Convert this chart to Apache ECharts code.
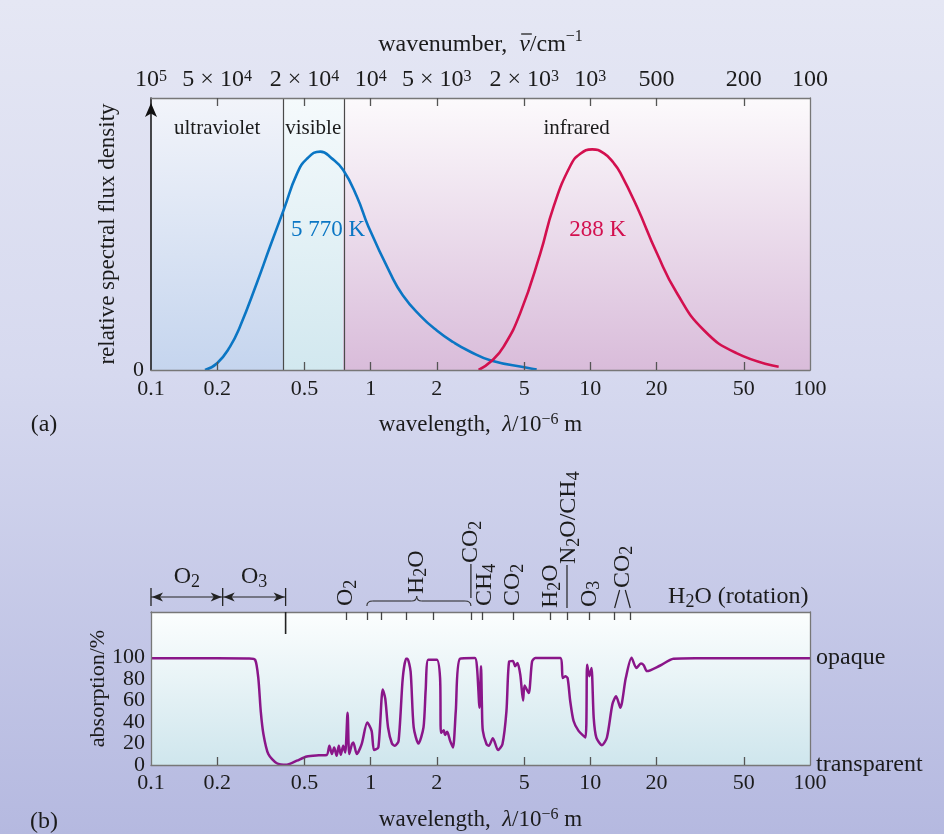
<!DOCTYPE html>
<html>
<head>
<meta charset="utf-8">
<script src="https://cdn.jsdelivr.net/npm/echarts@6.0.0/dist/echarts.min.js"></script>
<style>
html,body{margin:0;padding:0;}
#chart{width:944px;height:834px;background:linear-gradient(180deg,#e5e7f4 0%,#d6d9ef 45%,#b5b9e0 100%);}
</style>
</head>
<body>
<div id="chart"></div>
<script>
// ---------------- data ----------------
const wavelengthTicks = [0.1, 0.2, 0.5, 1, 2, 5, 10, 20, 50, 100];
const wavenumberLabels = ['10^5', '5 × 10^4', '2 × 10^4', '10^4', '5 × 10^3', '2 × 10^3', '10^3', '500', '200', '100'];
const absorptionTicks = [0, 20, 40, 60, 80, 100];
const regionNames = ['ultraviolet', 'visible', 'infrared'];
const regionEdges = [0.1, 0.4, 0.75, 100];
const sunLabel = '5 770 K';
const earthLabel = '288 K';

const sunWl   = [0.176, 0.2, 0.229, 0.254, 0.303, 0.348, 0.404, 0.461, 0.512, 0.59, 0.665, 0.75, 0.866, 0.977, 1.227, 1.4, 1.68, 2.0, 2.38, 2.8, 3.56, 5.15, 5.7];
const sunFlux = [0, 2.5, 8.6, 15.9, 31.9, 45.3, 59.4, 72, 77.6, 80.3, 77.8, 73.5, 63.7, 52.7, 35.6, 27.5, 20, 14.5, 10.2, 7.0, 3.4, 0.85, 0.2];

const earthWl   = [3.1, 3.56, 4.03, 4.8, 5.92, 6.8, 8.1, 9.0, 10.2, 11.5, 12.8, 13.7, 16.3, 20.1, 24.8, 32.8, 46.5, 72];
const earthFlux = [0, 3.4, 8.6, 21, 42.9, 60, 75, 79.5, 81.1, 79.7, 76, 72.5, 60, 42.9, 28.2, 14.7, 6.1, 1.2];

const absWl = [0.1,0.2,0.28,0.298,0.308,0.316,0.325,0.342,0.374,0.415,0.461,0.512,0.58,0.631,0.649,0.666,0.682,0.70,0.716,0.731,0.75,0.766,0.785,0.799,0.822,0.834,0.864,0.91,0.965,1.01,1.036,1.084,1.135,1.165,1.2,1.25,1.29,1.34,1.40,1.45,1.47,1.52,1.57,1.65,1.74,1.78,1.83,2.0,2.07,2.09,2.15,2.18,2.23,2.30,2.37,2.44,2.55,2.98,3.05,3.13,3.18,3.21,3.24,3.37,3.45,3.6,3.8,3.98,4.15,4.27,4.44,4.55,4.66,4.8,4.94,5.02,5.24,5.43,5.62,7.29,7.49,7.69,7.88,8.1,8.39,8.84,9.5,9.67,9.9,10.12,10.36,10.65,11.3,11.9,12.6,13.1,13.7,14.5,15.4,16.2,17.0,17.5,18.1,20.7,23.9,30,100];
const absVal = [99.5,99.5,99.3,98,81,50,28.7,10.2,1.6,0.3,4,8,9,9.3,17.9,10.2,16.4,8.6,17.9,9.5,17.9,11.7,48.8,10.2,19.4,21,10.2,19.4,39.5,31.8,13.9,16.4,70.4,62,35,20,18,22.5,81,99,99,87,35,20,35,70,98,98,81,30,32.4,28,31,22.5,16.4,50,99,99.7,90.4,53.4,92,55,32,19.4,17.9,25,13.9,19.4,50,96.5,97,92,95,84,60,74,67,96.5,99.7,99.7,81,82.7,81,59.5,41,31.8,25.6,93.5,82.7,90.4,44,25.6,18.5,25.6,56.5,64,53.4,81,100,90.4,94.5,93,87.5,92.5,99,99.5,99.5];

const bandMarkers = [0.773, 0.961, 1.113, 1.451, 1.92, 2.86, 3.21, 4.44, 6.57, 7.83, 9.9, 12.9, 15.2];
const uvBandNames = ['O_2', 'O_3'];
const uvBandEdges = [0.1, 0.212, 0.41];
const gasNames = ['O_2', 'H_2O', 'CO_2', 'CH_4', 'CO_2', 'H_2O', 'N_2O/CH_4', 'O_3', 'CO_2'];
const gasWl    = [0.773, 1.62, 2.86, 3.21, 4.44, 6.57, 7.83, 9.9, 14.0];
const waterBrace = [0.961, 1.62, 2.86];
const rotationLabel = 'H_2O (rotation)';
const rotationWl = 22.6;
const opaqueLabels = ['transparent', 'opaque'];

// ---------------- helpers / style ----------------
const L = v => Math.log10(v);
const FONT = '"Liberation Serif","Times New Roman",serif';
const TXT = '#1b1b1b';
const BLUE = '#0b76c4', RED = '#d3104f', PURPLE = '#8a1689';
const mk = s => s.replace(/\^([−\-0-9]+)/g, '{sup|$1}').replace(/_([0-9]+)/g, '{sub|$1}');
const richFor = (fs) => ({
  sup: {fontFamily: FONT, fontSize: Math.round(fs * 0.68), lineHeight: 10, verticalAlign: 'top'},
  sub: {fontFamily: FONT, fontSize: Math.round(fs * 0.75), lineHeight: 16, verticalAlign: 'bottom'},
  it: {fontFamily: FONT, fontSize: fs, fontStyle: 'italic'}
});
const grad = (a, b) => ({type: 'linear', x: 0, y: 0, x2: 0, y2: 1, colorStops: [{offset: 0, color: a}, {offset: 1, color: b}]});
const regionColors = [['#f2f4fa', '#c5d5ee'], ['#f5fafc', '#d2e8ef'], ['#fcfafc', '#d9bcda']];

const tickVals = wavelengthTicks.map(L);
const innerTicks = tickVals.slice(1, -1);
const wlFmt = v => String(+Math.pow(10, v).toPrecision(1));
const wnFmt = v => {
  const i = tickVals.findIndex(t => Math.abs(t - v) < 1e-6);
  return i < 0 ? '' : mk(wavenumberLabels[i]);
};
const lab = (fs, extra) => Object.assign({fontFamily: FONT, fontSize: fs, color: TXT, lineHeight: 18, rich: richFor(fs),
  hideOverlap: false, showMinLabel: true, showMaxLabel: true}, extra);
const nameStyle = {fontFamily: FONT, fontSize: 23, color: TXT, lineHeight: 26, rich: richFor(23)};

const xBase = (gridIndex, position) => ({
  type: 'value', gridIndex, position, min: -1, max: 2, z: 3,
  splitLine: {show: false},
  axisLine: {show: true, onZero: false, lineStyle: {color: '#777', width: 1.3}},
});
const tickStyle = {color: '#555', width: 1.3};

const chart = echarts.init(document.getElementById('chart'), null, {renderer: 'canvas'});

const option = {
  animation: false,
  backgroundColor: 'transparent',
  grid: [
    {left: 151, right: 134, top: 98, height: 272, show: false},
    {left: 151, right: 134, top: 612, height: 154, show: true, borderWidth: 0, backgroundColor: grad('#fcfefe', '#cfe6ed')}
  ],
  xAxis: [
    Object.assign(xBase(0, 'bottom'), {
      axisTick: {show: true, inside: true, length: 8, customValues: innerTicks, lineStyle: tickStyle},
      axisLabel: lab(22, {customValues: tickVals, formatter: wlFmt, margin: 10}),
      name: 'wavelength,  {it|λ}/10{sup|−6} m', nameLocation: 'middle', nameGap: 42, nameTextStyle: nameStyle
    }),
    Object.assign(xBase(0, 'top'), {
      axisTick: {show: true, inside: true, length: 8, customValues: innerTicks, lineStyle: tickStyle},
      axisLabel: lab(24, {customValues: tickVals, formatter: wnFmt, margin: 7, lineHeight: 22})
    }),
    Object.assign(xBase(1, 'bottom'), {
      axisTick: {show: true, inside: true, length: 8, customValues: innerTicks, lineStyle: tickStyle},
      axisLabel: lab(22, {customValues: tickVals, formatter: wlFmt, margin: 9}),
      name: 'wavelength,  {it|λ}/10{sup|−6} m', nameLocation: 'middle', nameGap: 42, nameTextStyle: nameStyle
    }),
    Object.assign(xBase(1, 'top'), {
      axisTick: {show: true, inside: true, length: 8, customValues: bandMarkers.map(L), lineStyle: {color: '#444', width: 1.3}},
      axisLabel: {show: false}
    })
  ],
  yAxis: [
    {type: 'value', gridIndex: 0, position: 'left', min: 0, max: 100, z: 3,
     splitLine: {show: false},
     axisLine: {show: true, onZero: false, lineStyle: {color: '#111', width: 1.5}, symbol: ['none', 'arrow'], symbolSize: [9, 14], symbolOffset: [0, -5]},
     axisTick: {show: false},
     axisLabel: lab(22, {customValues: [0], margin: 7}),
     name: 'relative spectral flux density', nameLocation: 'middle', nameGap: 30, nameTextStyle: nameStyle},
    {type: 'value', gridIndex: 0, position: 'right', min: 0, max: 100, z: 3,
     splitLine: {show: false}, axisLine: {show: true, onZero: false, lineStyle: {color: '#777', width: 1.3}},
     axisTick: {show: false}, axisLabel: {show: false}},
    {type: 'value', gridIndex: 1, position: 'left', min: 0, max: 142.6, z: 3,
     splitLine: {show: false}, axisLine: {show: true, onZero: false, lineStyle: {color: '#777', width: 1.3}},
     axisTick: {show: false},
     axisLabel: {show: false},
     name: 'absorption/%', nameLocation: 'middle', nameGap: 40, nameTextStyle: Object.assign({}, nameStyle, {fontSize: 22})},
    {type: 'value', gridIndex: 1, position: 'right', min: 0, max: 142.6, z: 3,
     splitLine: {show: false}, axisLine: {show: true, onZero: false, lineStyle: {color: '#777', width: 1.3}},
     axisTick: {show: false},
     axisLabel: lab(24, {customValues: [0, 100], margin: 6, formatter: v => v === 0 ? opaqueLabels[0] : opaqueLabels[1]})}
  ],
  series: [
    {
      type: 'line', xAxisIndex: 0, yAxisIndex: 0, showSymbol: false, symbol: 'none', smooth: 0.5, z: 2,
      lineStyle: {color: BLUE, width: 2.6}, itemStyle: {color: BLUE},
      data: sunWl.map((w, i) => [L(w), sunFlux[i]]),
      markArea: {
        silent: true, z: 0.5,
        label: {show: true, position: 'insideTop', distance: 20, color: TXT, fontFamily: FONT, fontSize: 21},
        data: regionNames.map((n, i) => [
          {name: n, xAxis: L(regionEdges[i]), yAxis: 0, itemStyle: {color: grad(regionColors[i][0], regionColors[i][1])}},
          {xAxis: L(regionEdges[i + 1]), yAxis: 100}
        ])
      },
      markLine: {
        silent: true, z: 1, symbol: ['none', 'none'], label: {show: false},
        lineStyle: {color: '#4a4a4a', width: 1.2, type: 'solid'},
        data: [{xAxis: L(regionEdges[1])}, {xAxis: L(regionEdges[2])}]
      },
      markPoint: {
        silent: true, symbol: 'circle', symbolSize: 0,
        label: {show: true, position: 'inside', color: BLUE, fontFamily: FONT, fontSize: 23, formatter: sunLabel},
        data: [{coord: [L(0.64), 51.5]}]
      }
    },
    {
      type: 'line', xAxisIndex: 0, yAxisIndex: 0, showSymbol: false, symbol: 'none', smooth: 0.5, z: 2,
      lineStyle: {color: RED, width: 2.6}, itemStyle: {color: RED},
      data: earthWl.map((w, i) => [L(w), earthFlux[i]]),
      markPoint: {
        silent: true, symbol: 'circle', symbolSize: 0,
        label: {show: true, position: 'inside', color: RED, fontFamily: FONT, fontSize: 23, formatter: earthLabel},
        data: [{coord: [L(10.8), 51.5]}]
      }
    },
    {
      type: 'line', xAxisIndex: 2, yAxisIndex: 2, showSymbol: false, symbol: 'none', smooth: 0.25, z: 2,
      lineStyle: {color: PURPLE, width: 2.5}, itemStyle: {color: PURPLE},
      data: absWl.map((w, i) => [L(w), absVal[i]])
    }
  ]
};
chart.setOption(option);

// ------------- annotations (positioned through the axis scales) -------------
const X = lam => chart.convertToPixel({xAxisIndex: 2}, L(lam));
const G = [];
const ln = (x1, y1, x2, y2, w) => G.push({type: 'line', silent: true, z: 10, shape: {x1, y1, x2, y2}, style: {stroke: '#222', lineWidth: w || 1.3}});
const bz = (x1, y1, cx, cy, x2, y2) => G.push({type: 'bezierCurve', silent: true, z: 10, shape: {x1, y1, x2, y2, cpx1: cx, cpy1: cy}, style: {stroke: '#333', lineWidth: 1.1, fill: null}});
const tx = (text, x, y, align, rot, fs) => {
  fs = fs || 24;
  G.push({type: 'text', silent: true, z: 10, x, y, rotation: rot || 0,
    style: {text: mk(text), fill: TXT, fontFamily: FONT, fontSize: fs, align: align || 'center', verticalAlign: 'middle', lineHeight: fs + 4, rich: richFor(fs)}});
};

// absorption tick labels (left axis of panel b)
const yLeft = chart.convertToPixel({xAxisIndex: 2}, -1);
absorptionTicks.forEach(v => tx(String(v), yLeft - 6, chart.convertToPixel({yAxisIndex: 2}, v), 'right', 0, 22));

// title of the top axis, with the bar over nu
(function () {
  const ctx = document.createElement('canvas').getContext('2d');
  const fs = 24;
  const parts = [
    {t: 'wavenumber,  ', f: `${fs}px "Liberation Serif"`, dy: 0},
    {t: 'ν', f: `italic ${fs}px "Liberation Serif"`, dy: 0},
    {t: '/cm', f: `${fs}px "Liberation Serif"`, dy: 0},
    {t: '−1', f: `${Math.round(fs * 0.68)}px "Liberation Serif"`, dy: -8}
  ];
  parts.forEach(p => { ctx.font = p.f; p.w = ctx.measureText(p.t).width; });
  const total = parts.reduce((s, p) => s + p.w, 0);
  const cx = chart.convertToPixel({xAxisIndex: 1}, 0.5);
  const cy = 45;
  let x = cx - total / 2;
  parts.forEach((p, i) => {
    G.push({type: 'text', silent: true, z: 10, x, y: cy + p.dy,
      style: {text: p.t, fill: TXT, font: p.f, align: 'left', verticalAlign: 'middle'}});
    if (i === 1) ln(x + 2, cy - 11, x + p.w + 2, cy - 11, 1.3);
    x += p.w;
  });
})();

// UV arrows
const ay = 597;
for (let i = 0; i < uvBandNames.length; i++) {
  const xa = X(uvBandEdges[i]), xb = X(uvBandEdges[i + 1]);
  ln(xa, ay, xb, ay, 1.2);
  G.push({type: 'polygon', silent: true, z: 10, shape: {points: [[xa + 1, ay], [xa + 12, ay - 4.5], [xa + 9, ay], [xa + 12, ay + 4.5]]}, style: {fill: '#222'}});
  G.push({type: 'polygon', silent: true, z: 10, shape: {points: [[xb - 1, ay], [xb - 12, ay - 4.5], [xb - 9, ay], [xb - 12, ay + 4.5]]}, style: {fill: '#222'}});
  tx(uvBandNames[i], (xa + xb) / 2, 577, 'center');
}
uvBandEdges.forEach(w => ln(X(w), 588, X(w), 606, 1.3));
ln(X(uvBandEdges[2]), 612, X(uvBandEdges[2]), 634, 1.6);

// rotated gas labels
const gasBase = [606, 594, 563, 606, 606, 608, 564, 607, 588];
const gasDx   = [0, 0, 0, 3, 0, 0, 2, 0, 0];
gasNames.forEach((g, i) => tx(g, X(gasWl[i]) + gasDx[i], gasBase[i], 'left', Math.PI / 2));
// connectors
ln(X(gasWl[2]), 564, X(gasWl[2]), 598, 1.2);
ln(X(gasWl[6]), 565, X(gasWl[6]), 608, 1.2);
ln(X(bandMarkers[11]), 608, X(bandMarkers[11]) + 5, 590, 1.2);
ln(X(bandMarkers[12]), 608, X(bandMarkers[12]) - 5, 590, 1.2);
// brace
(function () {
  const x1 = X(waterBrace[0]), xm = X(waterBrace[1]), x2 = X(waterBrace[2]);
  const y = 601;
  bz(x1, y + 5, x1, y, x1 + 6, y);
  ln(x1 + 6, y, xm - 5, y, 1.1);
  bz(xm - 5, y, xm, y, xm, y - 5);
  bz(xm, y - 5, xm, y, xm + 5, y);
  ln(xm + 5, y, x2 - 6, y, 1.1);
  bz(x2 - 6, y, x2, y, x2, y + 5);
})();
tx(rotationLabel, X(rotationWl), 597, 'left');

// panel letters
tx('(a)', 44, 425, 'center');
tx('(b)', 44, 822, 'center');

chart.setOption({graphic: {elements: G}});
</script>
</body>
</html>
